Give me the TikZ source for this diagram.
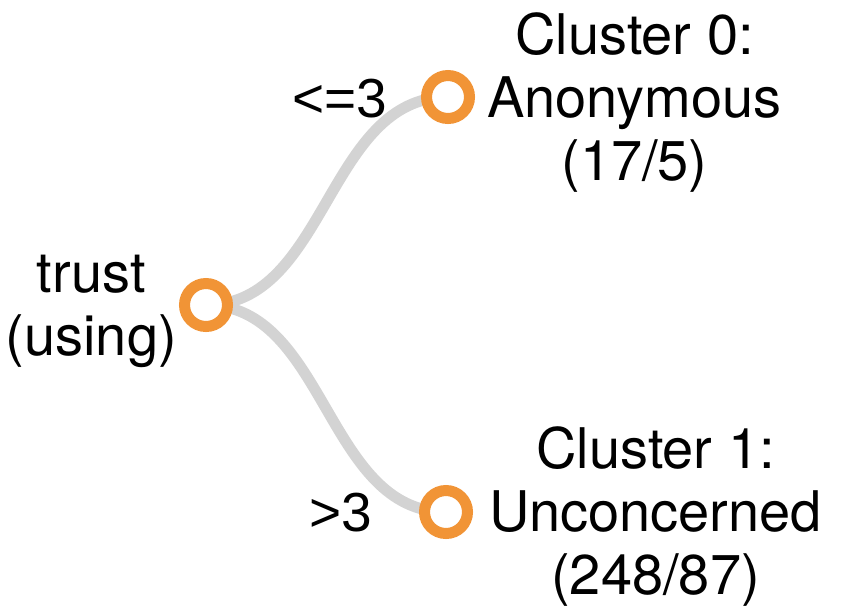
\documentclass[tikz,border=0pt]{standalone}
\usepackage{fontspec}
\setmainfont{TeX Gyre Heros}
\newfontfamily\cmpfont{Liberation Sans}
\usetikzlibrary{calc}
\definecolor{nodeorange}{RGB}{241,148,54}
\definecolor{linkgray}{RGB}{211,211,211}
\tikzset{
  treenode/.style={circle, draw=nodeorange, line width=11pt, fill=white, minimum size=43pt, inner sep=0pt},
  treelink/.style={draw=linkgray, line width=11pt},
  lbl/.style={inner sep=0pt, align=center, font=\fontsize{56pt}{63pt}\selectfont},
  edgelbl/.style={inner sep=0pt, anchor=base, font=\cmpfont\fontsize{55pt}{63pt}\selectfont}
}
\begin{document}
\begin{tikzpicture}[x=1pt,y=-1pt]
\useasboundingbox (0,0) rectangle (842,606);
\coordinate (root) at (206,305);
\coordinate (c0) at (448,97);
\coordinate (c1) at (446,512);
\coordinate (m0) at ($(root)!.5!(c0)$);
\coordinate (m1) at ($(root)!.5!(c1)$);
\draw[treelink] (root) .. controls (m0 |- root) and (m0 |- c0) .. (c0);
\draw[treelink] (root) .. controls (m1 |- root) and (m1 |- c1) .. (c1);
\node[treenode] (nroot) at (root) {};
\node[treenode] (nc0) at (c0) {};
\node[treenode] (nc1) at (c1) {};
\node[lbl, anchor=east] (lroot) at (177,311.5) {trust\\(using)};
\node[lbl, anchor=west] (lc0) at (487,102.5) {Cluster 0:\\Anonymous\\(17/5)};
\node[lbl, anchor=west] (lc1) at (489,516.5) {Cluster 1:\\Unconcerned\\(248/87)};
\node[edgelbl] (e0) at (340,117) {<=3};
\node[edgelbl] (e1) at (341,531) {>3};
\end{tikzpicture}
\end{document}
